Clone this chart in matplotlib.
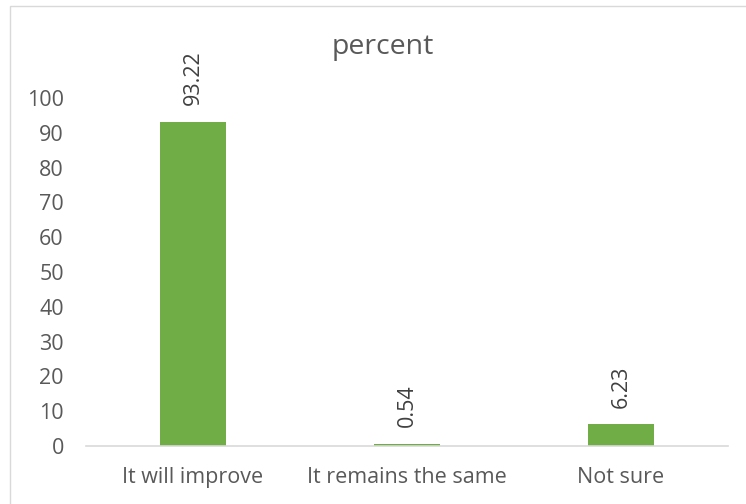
import matplotlib.pyplot as plt
from matplotlib.patches import Rectangle

# data
categories = ["It will improve", "It remains the same", "Not sure"]
percent = [93.22, 0.54, 6.23]
yticks = list(range(0, 101, 10))

plt.rcParams['font.family'] = ['Open Sans', 'DejaVu Sans']

fig = plt.figure(figsize=(7.46, 5.04), dpi=100)
W, H = 746, 504
ax = fig.add_axes([86 / W, 1 - 446 / H, (728 - 86) / W, (446 - 98) / H])

x = range(len(categories))
bars = ax.bar(x, percent, width=0.31, color='#70AD47')

for rect, v in zip(bars, percent):
    ax.annotate(f"{v:.2f}", (rect.get_x() + rect.get_width() / 2, v),
                xytext=(0, 12), textcoords='offset points',
                rotation=90, ha='center', va='bottom',
                fontsize=15.5, color='#404040', annotation_clip=False)

ax.set_xlim(-0.5, 2.5)
ax.set_ylim(0, 100)
ax.set_yticks(yticks)
ax.set_xticks(list(x))
ax.set_xticklabels(categories)
ax.tick_params(axis='both', length=0, labelsize=15.5, labelcolor='#595959')
ax.tick_params(axis='y', pad=16)
ax.tick_params(axis='x', pad=15)

for s in ['top', 'right', 'left']:
    ax.spines[s].set_visible(False)
ax.spines['bottom'].set_color('#D9D9D9')
ax.spines['bottom'].set_linewidth(1.2)

fig.text(383 / W, 1 - 47 / H, "percent", ha='center', va='center',
         fontsize=20.5, color='#595959')

# chart border
fig.patches.append(Rectangle((10 / W, -0.1), 1.0, 1 - 6 / H + 0.1,
                             transform=fig.transFigure, fill=False,
                             edgecolor='#D9D9D9', linewidth=1))

fig.savefig("out.png", dpi=100)
